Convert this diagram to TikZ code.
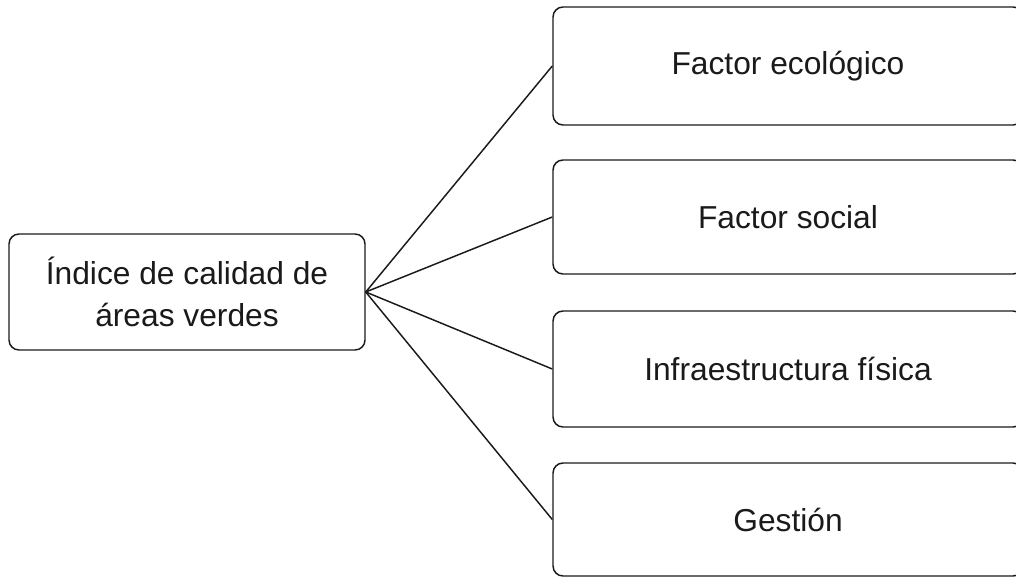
\documentclass[tikz,border=0pt]{standalone}
\usepackage{fontspec}
\setmainfont{Liberation Sans}
\definecolor{ink}{HTML}{1A1A1A}
\begin{document}
\begin{tikzpicture}[x=0.75pt,y=-0.75pt,
  box/.style={draw=ink,line width=1.1pt,rounded corners=7.5pt,inner sep=0pt,
    align=center,text=ink,font=\fontsize{23.8pt}{32pt}\selectfont},
  link/.style={draw=ink,line width=1.1pt}]
\useasboundingbox (0,0) rectangle (1016,577);
\begin{scope}
\clip (0,0) rectangle (1016,577);
\node[box,minimum width=267pt,minimum height=87pt] (root) at (187,292) {Índice de calidad de\\áreas verdes};
\node[box,minimum width=352.5pt,minimum height=88.5pt] (f1) at (788,66) {Factor ecológico};
\node[box,minimum width=352.5pt,minimum height=85.5pt] (f2) at (788,217) {Factor social};
\node[box,minimum width=352.5pt,minimum height=87pt] (f3) at (788,369) {Infraestructura física};
\node[box,minimum width=352.5pt,minimum height=84.75pt] (f4) at (788,519.5) {Gestión};
\draw[link] (root.east) -- (f1.west);
\draw[link] (root.east) -- (f2.west);
\draw[link] (root.east) -- (f3.west);
\draw[link] (root.east) -- (f4.west);
\end{scope}
\end{tikzpicture}
\end{document}
